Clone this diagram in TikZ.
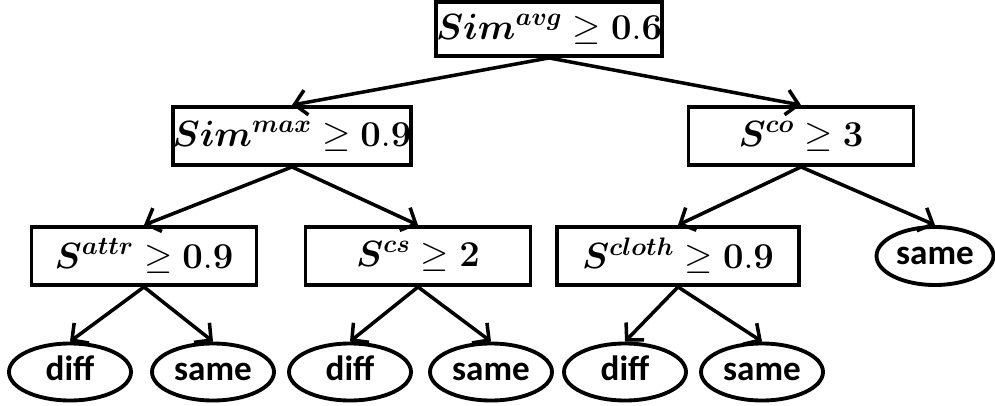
\documentclass[tikz,border=0pt]{standalone}
\usepackage{amsmath,amssymb,bm}
\usepackage[no-math]{fontspec}
\newfontfamily\leaffont{Carlito}
\usepackage{tikz}
\usetikzlibrary{arrows.meta,shapes.geometric}

\begin{document}
\begin{tikzpicture}[
  every node/.style={inner sep=0pt},
  test/.style={draw,line width=2.2pt,rectangle,minimum width=4.5cm,minimum height=1.16cm,
    font=\fontsize{20.5}{22}\selectfont},
  leaf/.style={draw,line width=2.2pt,ellipse,minimum width=2.44cm,minimum height=1.14cm,
    text height=9.4pt,text depth=0pt,
    font=\leaffont\bfseries\fontsize{20}{22}\selectfont},
  arr/.style={-{Straight Barb[length=2.4mm,width=5mm]},line width=2pt}]
\useasboundingbox (0,0) rectangle (19.9,-8.12);
% decision nodes
\node[test,minimum height=1.08cm] (root) at (10.98,-0.58) {$\bm{Sim}^{\bm{avg}}\geq\mathbf{0.6}$};
\node[test] (simmax) at (5.84,-2.72) {$\bm{Sim}^{\bm{max}}\geq\mathbf{0.9}$};
\node[test] (sco) at (16.02,-2.72) {$\bm{S}^{\bm{co}}\geq\mathbf{3}$};
\node[test] (sattr) at (2.88,-5.12) {$\bm{S}^{\bm{attr}}\geq\mathbf{0.9}$};
\node[test] (scs) at (8.36,-5.12) {$\bm{S}^{\bm{cs}}\geq\mathbf{2}$};
\node[test,minimum width=4.84cm] (scloth) at (13.56,-5.12) {$\bm{S}^{\bm{cloth}}\geq\mathbf{0.9}$};
% leaves
\node[leaf,minimum width=2.34cm,minimum height=1.16cm] (sameR) at (18.70,-5.12) {same};
\node[leaf] (diffA) at (1.40,-7.44) {diff};
\node[leaf] (sameA) at (4.26,-7.44) {same};
\node[leaf] (diffB) at (7.00,-7.44) {diff};
\node[leaf] (sameB) at (9.82,-7.44) {same};
\node[leaf] (diffC) at (12.50,-7.44) {diff};
\node[leaf] (sameC) at (15.24,-7.44) {same};
% edges
\draw[arr] (root.south) -- (simmax.north);
\draw[arr] (root.south) -- (sco.north);
\draw[arr] (simmax.south) -- (sattr.north);
\draw[arr] (simmax.south) -- (scs.north);
\draw[arr] (sco.south) -- (scloth.north);
\draw[arr] (sco.south) -- (sameR.north);
\draw[arr] (sattr.south) -- (diffA.north);
\draw[arr] (sattr.south) -- (sameA.north);
\draw[arr] (scs.south) -- (diffB.north);
\draw[arr] (scs.south) -- (sameB.north);
\draw[arr] (scloth.south) -- (diffC.north);
\draw[arr] (scloth.south) -- (sameC.north);
\end{tikzpicture}
\end{document}
